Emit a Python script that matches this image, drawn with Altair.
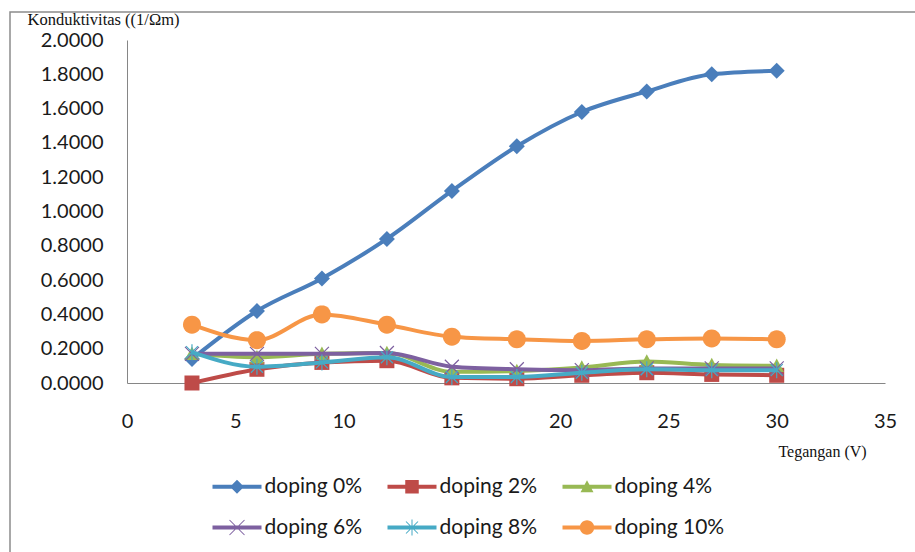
import math
import altair as alt
import pandas as pd

# ---------------- data ----------------
x_volt = [3, 6, 9, 12, 15, 18, 21, 24, 27, 30]
series = ["doping 0%", "doping 2%", "doping 4%", "doping 6%", "doping 8%", "doping 10%"]
d0 = [0.14, 0.42, 0.61, 0.84, 1.12, 1.38, 1.58, 1.70, 1.80, 1.82]
d2 = [0.00, 0.08, 0.12, 0.13, 0.03, 0.025, 0.045, 0.06, 0.05, 0.045]
d4 = [0.17, 0.15, 0.17, 0.175, 0.065, 0.07, 0.09, 0.125, 0.105, 0.10]
d6 = [0.17, 0.17, 0.17, 0.175, 0.095, 0.08, 0.075, 0.085, 0.085, 0.085]
d8 = [0.18, 0.095, 0.12, 0.15, 0.035, 0.035, 0.06, 0.08, 0.075, 0.075]
d10 = [0.34, 0.25, 0.40, 0.34, 0.27, 0.255, 0.245, 0.255, 0.26, 0.255]
values = [d0, d2, d4, d6, d8, d10]
colors = ["#4A7EBB", "#BE4B48", "#98B954", "#7D60A0", "#46AAC5", "#F79646"]
x_ticks = [0, 5, 10, 15, 20, 25, 30, 35]
y_ticks = [0.0, 0.2, 0.4, 0.6, 0.8, 1.0, 1.2, 1.4, 1.6, 1.8, 2.0]


# ---------------- marker shapes (SVG paths, unit = sqrt(size)/2 px) ----------------
def _poly(pts):
    return "M" + "L".join(f"{px:.3f},{py:.3f}" for px, py in pts) + "Z"


def _seg(x1, y1, x2, y2, t):
    L = math.hypot(x2 - x1, y2 - y1)
    dx, dy = (x2 - x1) / L, (y2 - y1) / L
    nx, ny = -dy, dx
    return _poly([(x1 + nx * t, y1 + ny * t), (x2 + nx * t, y2 + ny * t),
                  (x2 - nx * t, y2 - ny * t), (x1 - nx * t, y1 - ny * t)])


def diamond(r):
    return _poly([(0, r), (r, 0), (0, -r), (-r, 0)])


def square(r):
    return _poly([(-r, r), (r, r), (r, -r), (-r, -r)])


def triangle(r):
    return _poly([(-r, 0.85 * r), (r, 0.85 * r), (0, -r)])


def circle(r, n=28):
    return _poly([(r * math.cos(-2 * math.pi * k / n), r * math.sin(-2 * math.pi * k / n)) for k in range(n)])


def xmark(r, t):
    return _seg(-r, -r, r, r, t) + _seg(-r, r, r, -r, t)


def star(r, t):
    a = r * 0.75
    return _seg(0, -r, 0, r, t) + _seg(-a, -a, a, a, t) + _seg(-a, a, a, -a, t)


chart_markers = [diamond(1.6), square(1.5), triangle(1.45), xmark(1.4, 0.12), star(1.6, 0.12), circle(1.8)]
legend_line = _seg(-4.9, 0, 4.9, 0, 0.4)
legend_markers = [legend_line + diamond(1.4), legend_line + square(1.35), legend_line + triangle(1.3),
                  legend_line + xmark(1.5, 0.1), legend_line + star(1.6, 0.1), legend_line + circle(1.45)]

rows = []
for name, ys in zip(series, values):
    for xv, yv in zip(x_volt, ys):
        rows.append({"series": name, "volt": xv, "cond": yv})
df = pd.DataFrame(rows)

# ---------------- encodings ----------------
x_enc = alt.X(
    "volt:Q",
    scale=alt.Scale(domain=[0, 35], nice=False, zero=False),
    axis=alt.Axis(
        values=x_ticks, format="d", title="Tegangan (V)",
        titleFont="Liberation Serif", titleFontSize=16, titleFontWeight="normal", titleColor="#111111",
        titleX=695, titleY=68, titleAlign="center", titleBaseline="middle", titleAngle=0,
        labelFont="Lato", labelFontSize=20, labelColor="#1a1a1a", labelPadding=28, labelFlush=False,
        labelOverlap=False, ticks=False, tickSize=0, grid=False, domainColor="#868686", domainWidth=1,
    ),
)
y_enc = alt.Y(
    "cond:Q",
    scale=alt.Scale(domain=[0, 2], nice=False),
    axis=alt.Axis(
        values=y_ticks, format=".4f", title="Konduktivitas ((1/\u03a9m)",
        titleFont="Liberation Serif", titleFontSize=16.5, titleFontWeight="normal", titleColor="#111111",
        titleX=-100, titleY=-21, titleAlign="left", titleBaseline="middle", titleAngle=0,
        labelFont="Lato", labelFontSize=20, labelColor="#1a1a1a", labelPadding=24, labelFlush=False,
        labelOverlap=False, ticks=False, tickSize=0, grid=False, domainColor="#868686", domainWidth=1,
    ),
)
color_scale = alt.Scale(domain=series, range=colors)

leg = alt.Legend(
    title=None, orient="none", legendX=80, legendY=436, direction="horizontal", columns=3,
    columnPadding=19, rowPadding=19, padding=0,
    labelFont="Lato", labelFontSize=21, labelColor="#1a1a1a", labelLimit=300,
    symbolSize=100, symbolStrokeWidth=0, symbolOffset=19.5, labelOffset=17, symbolOpacity=1,
)

base = alt.Chart(df)

layers = []
for name, mk, col in zip(series, chart_markers, colors):
    sub = base.transform_filter(alt.datum.series == name)
    layers.append(sub.mark_line(strokeWidth=4, interpolate="monotone", color=col).encode(x=x_enc, y=y_enc))
    layers.append(sub.mark_point(filled=True, opacity=1, size=100, shape=mk, color=col).encode(x=x_enc, y=y_enc))

legend_layer = base.mark_point(filled=True, opacity=0).encode(
    x=x_enc, y=y_enc,
    color=alt.Color("series:N", scale=color_scale, legend=leg),
    shape=alt.Shape("series:N", scale=alt.Scale(domain=series, range=legend_markers), legend=leg),
)

frame = alt.Chart(pd.DataFrame({"k": [0]})).mark_rect(
    fillOpacity=0, stroke="#8c8c8c", strokeWidth=1.5
).encode(x=alt.value(-117), x2=alt.value(820), y=alt.value(-28), y2=alt.value(600))

chart = alt.layer(frame, legend_layer, *layers).properties(
    width=758, height=343,
    autosize=alt.AutoSizeParams(type="none"),
    padding={"left": 127, "top": 40, "right": 30, "bottom": 169},
    background="white",
).configure_view(strokeWidth=0)

chart.save("out.html", embed_options={"renderer": "svg", "actions": False})
